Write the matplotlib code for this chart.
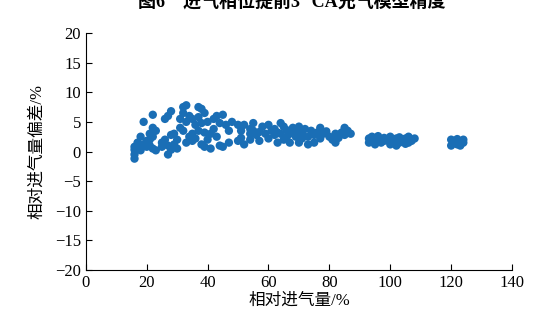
import matplotlib
matplotlib.use("Agg")
import matplotlib.pyplot as plt

plt.rcParams['font.family'] = ['Liberation Serif', 'Noto Sans CJK SC']
plt.rcParams['axes.unicode_minus'] = True

# 相对进气量 / 偏差
x_vals = [16, 16, 16, 16, 17, 17, 18, 18, 18, 19, 19, 20, 20, 21, 21, 21,
          22, 22, 22, 22, 23, 23, 25, 25, 26, 26, 27, 27, 27, 28, 28, 28,
          29, 29, 30, 30, 31, 31, 32, 32, 32, 33, 33, 33, 34, 34, 35, 35, 35,
          36, 36, 37, 37, 37, 38, 38, 38, 39, 39, 39, 40, 40, 41, 41, 42, 42,
          43, 43, 44, 44, 45, 45, 46, 47, 47, 48, 50, 50, 51, 51, 52, 52,
          54, 54, 54, 55, 55, 56, 57, 57, 58, 59, 60, 60, 61, 62, 62, 63, 63,
          64, 64, 65, 65, 66, 66, 67, 67, 68, 69, 69, 70, 70, 71, 71, 72,
          73, 73, 74, 75, 75, 76, 77, 77, 78, 79, 80, 81, 82, 82, 83, 84,
          85, 85, 86, 87,
          93, 93, 94, 94, 95, 95, 96, 96, 97, 98, 98, 99, 100, 100, 101,
          102, 102, 103, 103, 104, 105, 105, 106, 106, 107, 108,
          120, 120, 121, 121, 122, 122, 123, 123, 124, 124]
y_vals = [-1.2, -0.5, 0.3, 0.8, 0.5, 1.5, 2.5, 1.0, 0.2, 5.0, 1.2, 0.8, 1.8,
          3.0, 2.0, 1.0, 6.2, 4.0, 2.5, 0.5, 3.5, 0.2, 1.5, 0.8, 5.5, 2.0,
          6.0, -0.5, 1.0, 6.8, 2.8, 0.3, 3.0, 1.2, 2.0, 0.5, 5.5, 4.0, 7.5,
          6.5, 3.5, 7.8, 5.0, 1.5, 6.0, 2.5, 5.5, 3.0, 1.8, 4.5, 2.2, 7.5,
          5.8, 3.5, 7.2, 4.8, 1.2, 6.5, 3.2, 0.8, 5.0, 2.0, 3.0, 0.5, 5.5,
          3.8, 6.0, 2.5, 4.8, 1.0, 6.2, 0.8, 4.5, 3.5, 1.5, 5.0, 4.5, 1.8,
          3.5, 2.3, 4.5, 1.2, 3.8, 2.0, 3.0, 4.8, 3.5, 2.8, 3.3, 1.8, 4.2,
          3.0, 4.5, 2.2, 3.5, 3.8, 2.8, 3.2, 1.5, 4.8, 3.0, 4.2, 2.0, 2.5,
          3.6, 1.5, 3.0, 4.0, 2.5, 3.5, 4.2, 1.5, 3.0, 2.2, 3.8, 2.5, 1.2,
          3.5, 2.8, 1.5, 3.2, 4.0, 2.2, 3.0, 3.4, 2.5, 2.0, 3.0, 1.5, 2.3,
          3.2, 4.0, 2.8, 3.5, 3.0,
          2.2, 1.5, 2.5, 2.0, 1.2, 1.8, 2.6, 2.2, 1.5, 1.8, 2.3, 2.0, 2.5,
          1.2, 1.8, 2.2, 1.0, 1.5, 2.4, 2.0, 1.3, 2.2, 2.5, 1.5, 1.8, 2.2,
          1.0, 2.0, 1.5, 1.8, 1.2, 2.1, 1.6, 1.0, 1.5, 2.0]

x_ticks = [0, 20, 40, 60, 80, 100, 120, 140]
y_ticks = [-20, -15, -10, -5, 0, 5, 10, 15, 20]

fig = plt.figure(figsize=(5.5, 3.2), dpi=100)
ax = fig.add_axes([0.156, 0.156, 0.775, 0.741])

ax.scatter(x_vals, y_vals, s=36, color='#1a6eb5', edgecolors='none')

ax.set_xlim(0, 140)
ax.set_ylim(-20, 20)
ax.set_xticks(x_ticks)
ax.set_yticks(y_ticks)
ax.tick_params(direction='in', labelsize=12, length=4, width=0.8)
for s in ['top', 'right']:
    ax.spines[s].set_visible(False)

ax.set_xlabel('相对进气量/%', fontsize=12, labelpad=1)
ax.set_ylabel('相对进气量偏差/%', fontsize=12, labelpad=7)

fig.text(0.53, 0.993, '图6    进气相位提前3° CA充气模型精度', ha='center',
         va='center', fontsize=13, fontweight='bold')

fig.savefig('out.png', dpi=100)
